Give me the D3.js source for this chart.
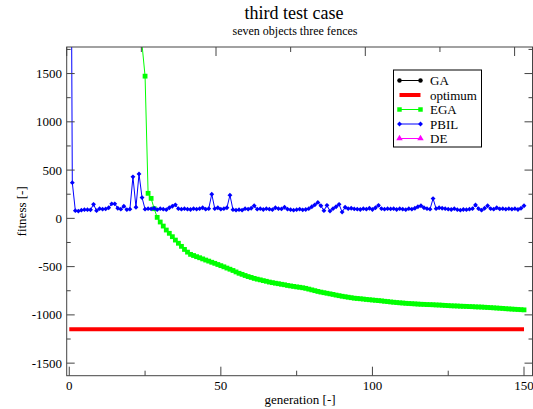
<!DOCTYPE html>
<html><head><meta charset="utf-8">
<script src="https://cdn.jsdelivr.net/npm/d3@7"></script>
<style>
html,body{margin:0;padding:0;background:#fff;}
svg{display:block;font-family:"Liberation Serif","Times New Roman",serif;}
</style></head>
<body>
<svg id="chart" width="533" height="409"></svg>
<script>
// ---------- data ----------
const title = "third test case";
const subtitle = "seven objects three fences";
const xLabel = "generation [-]";
const yLabel = "fitness [-]";
const seriesNames = ["GA", "optimum", "EGA", "PBIL", "DE"];
const xTicksMajor = [0, 50, 100, 150];
const xTicksMinor = [25, 75, 125];
const yTicksMajor = [-1500, -1000, -500, 0, 500, 1000, 1500];
const yTicksMinor = [-1250, -750, -250, 250, 750, 1250, 1750];

const gaValues = [];   // no visible GA data
const deValues = [];   // no visible DE data
const optimumGen = [0, 150];
const optimumValues = [-1150, -1150];

// EGA: generations 0..150
const egaValues = [
  9800, 9200, 8700, 8100, 7600, 7100, 6700, 6200, 5800, 5400,
  5000, 4700, 4400, 4100, 3800, 3550, 3300, 3100, 2900, 2700,
  2550, 2400, 2250, 2050, 1800, 1473, 259, 207, 100, 10,
  -38, -80, -121, -155, -190, -225, -258, -290, -322, -350,
  -373, -385, -397, -408, -420, -432, -443, -455, -466, -478,
  -490, -502, -515, -527, -540, -555, -569, -580, -592, -603,
  -612, -622, -630, -637, -645, -652, -660, -666, -672, -677,
  -683, -688, -695, -700, -705, -710, -714, -719, -725, -733,
  -741, -749, -757, -764, -770, -776, -782, -788, -795, -801,
  -807, -812, -817, -822, -827, -830, -833, -836, -840, -843,
  -846, -849, -852, -855, -859, -862, -866, -869, -872, -875,
  -877, -880, -882, -884, -886, -888, -890, -891, -893, -894,
  -895, -897, -898, -900, -902, -904, -906, -907, -908, -910,
  -911, -912, -914, -915, -917, -918, -919, -921, -923, -925,
  -927, -929, -931, -933, -936, -938, -940, -942, -944, -946,
  -948
];

// PBIL: generations 0..150
const pbilValues = [
  7400, 370, 80, 75, 85, 90, 90, 88, 145, 80,
  100, 95, 98, 110, 150, 150, 105, 95, 125, 90,
  95, 430, 115, 460, 215, 95, 100, 98, 105, 90,
  100, 95, 90, 110, 125, 140, 100, 95, 100, 95,
  92, 100, 95, 100, 110, 95, 100, 250, 100, 110,
  95, 100, 110, 240, 90, 85, 90, 85, 100, 95,
  105, 130, 95, 100, 92, 100, 95, 90, 110, 100,
  98, 115, 95, 90, 85, 90, 95, 88, 92, 100,
  120, 140, 165, 130, 80, 135, 75, 100, 120, 145,
  65, 115, 100, 105, 98, 95, 92, 100, 95, 105,
  92, 110, 135, 100, 95, 100, 98, 100, 92, 100,
  95, 90, 100, 95, 105, 120, 130, 110, 100, 95,
  205, 100, 110, 105, 100, 95, 92, 100, 90, 85,
  92, 90, 95, 100, 138, 100, 85, 105, 130, 100,
  95, 110, 98, 100, 95, 100, 95, 100, 92, 105,
  130
];

// ---------- layout ----------
const svg = d3.select("#chart");
const pLeft = 66.7, pRight = 532.5, pTop = 47, pBottom = 375.7;
const x = d3.scaleLinear().domain([-0.85, 152.8]).range([pLeft, pRight]);
const xTop = d3.scaleLinear().domain([0, 150]).range([pLeft, 514.6]);
const y = d3.scaleLinear().domain([-1630, 1775]).range([pBottom, pTop]);
const axisColor = "#444";

svg.append("defs").append("clipPath").attr("id", "plotclip")
  .append("rect").attr("x", pLeft).attr("y", pTop)
  .attr("width", pRight - pLeft).attr("height", pBottom - pTop);

// titles
svg.append("text").attr("x", 294).attr("y", 19).attr("text-anchor", "middle")
  .attr("font-size", 18).attr("fill", "#000").text(title);
svg.append("text").attr("x", 295).attr("y", 35).attr("text-anchor", "middle")
  .attr("font-size", 12).attr("fill", "#000").text(subtitle);

// series
const plot = svg.append("g").attr("clip-path", "url(#plotclip)");
const line = d3.line().x(d => x(d[0])).y(d => y(d[1]));

// optimum
plot.append("path").datum(optimumGen.map((g, i) => [g, optimumValues[i]]))
  .attr("d", line).attr("fill", "none").attr("stroke", "#ff0000").attr("stroke-width", 4);

// EGA
const egaData = egaValues.map((v, i) => [i, v]);
plot.append("path").datum(egaData).attr("d", line)
  .attr("fill", "none").attr("stroke", "#00ff00").attr("stroke-width", 1);
plot.selectAll(".ega").data(egaData).enter().append("rect")
  .attr("x", d => x(d[0]) - 2.4).attr("y", d => y(d[1]) - 2.4)
  .attr("width", 4.8).attr("height", 4.8).attr("fill", "#00ff00");

// PBIL
const pbilData = pbilValues.map((v, i) => [i, v]);
plot.append("path").datum(pbilData).attr("d", line)
  .attr("fill", "none").attr("stroke", "#0000ff").attr("stroke-width", 1);
const diamond = d3.symbol().type(d3.symbolDiamond2).size(15);
plot.selectAll(".pbil").data(pbilData).enter().append("path")
  .attr("d", diamond).attr("transform", d => `translate(${x(d[0])},${y(d[1])})`)
  .attr("fill", "#0000ff");

// frame
svg.append("rect").attr("x", pLeft).attr("y", pTop)
  .attr("width", pRight - pLeft).attr("height", pBottom - pTop)
  .attr("fill", "none").attr("stroke", axisColor).attr("stroke-width", 1);

// ticks
const tk = svg.append("g").attr("stroke", axisColor).attr("stroke-width", 1);
xTicksMajor.forEach(v => {
  tk.append("line").attr("x1", x(v)).attr("x2", x(v)).attr("y1", pBottom).attr("y2", pBottom - 9);
  tk.append("line").attr("x1", xTop(v)).attr("x2", xTop(v)).attr("y1", pTop).attr("y2", pTop + 9);
});
xTicksMinor.forEach(v => {
  tk.append("line").attr("x1", x(v)).attr("x2", x(v)).attr("y1", pBottom).attr("y2", pBottom - 5);
  tk.append("line").attr("x1", xTop(v)).attr("x2", xTop(v)).attr("y1", pTop).attr("y2", pTop + 5);
});
yTicksMajor.forEach(v => {
  tk.append("line").attr("x1", pLeft).attr("x2", pLeft + 8).attr("y1", y(v)).attr("y2", y(v));
  tk.append("line").attr("x1", pRight).attr("x2", pRight - 8).attr("y1", y(v)).attr("y2", y(v));
});
yTicksMinor.forEach(v => {
  tk.append("line").attr("x1", pLeft).attr("x2", pLeft + 4).attr("y1", y(v)).attr("y2", y(v));
  tk.append("line").attr("x1", pRight).attr("x2", pRight - 4).attr("y1", y(v)).attr("y2", y(v));
});

// tick labels
svg.selectAll(".xl").data(xTicksMajor).enter().append("text")
  .attr("x", d => x(d)).attr("y", 390).attr("text-anchor", "middle")
  .attr("font-size", 13).attr("fill", "#000").text(d => d);
svg.selectAll(".yl").data(yTicksMajor).enter().append("text")
  .attr("x", 62).attr("y", d => y(d) + 4.5).attr("text-anchor", "end")
  .attr("font-size", 13).attr("fill", "#000").text(d => d);

// axis labels
svg.append("text").attr("x", 300).attr("y", 404).attr("text-anchor", "middle")
  .attr("font-size", 13).attr("fill", "#000").text(xLabel);
svg.append("text").attr("transform", `translate(26,${(pTop + pBottom) / 2}) rotate(-90)`)
  .attr("text-anchor", "middle").attr("font-size", 13).attr("fill", "#000").text(yLabel);

// legend
const lg = svg.append("g");
lg.append("rect").attr("x", 393.5).attr("y", 70).attr("width", 88).attr("height", 77)
  .attr("fill", "#fff").attr("stroke", "#000").attr("stroke-width", 1);
const legendStyles = [
  {color: "#000000", width: 1, marker: "circle"},
  {color: "#ff0000", width: 4, marker: null},
  {color: "#00ff00", width: 1, marker: "square"},
  {color: "#0000ff", width: 1, marker: "diamond"},
  {color: "#ff00ff", width: 1, marker: "triangle"}
];
const markerSym = {circle: d3.symbolCircle, square: d3.symbolSquare, diamond: d3.symbolDiamond2, triangle: d3.symbolTriangle};
const markerSize = {circle: 16, square: 20, diamond: 15, triangle: 18};
seriesNames.forEach((name, i) => {
  const ly = 80.5 + i * 14.5;
  const st = legendStyles[i];
  lg.append("line").attr("x1", 399.5).attr("x2", 420.5).attr("y1", ly).attr("y2", ly)
    .attr("stroke", st.color).attr("stroke-width", st.width);
  if (st.marker) {
    [399.5, 420.5].forEach(mx => {
      lg.append("path").attr("d", d3.symbol().type(markerSym[st.marker]).size(markerSize[st.marker]))
        .attr("transform", `translate(${mx},${ly})`).attr("fill", st.color);
    });
  }
  lg.append("text").attr("x", 430).attr("y", ly + 4.5).attr("font-size", 13)
    .attr("fill", "#000").text(name);
});
</script>
</body></html>
